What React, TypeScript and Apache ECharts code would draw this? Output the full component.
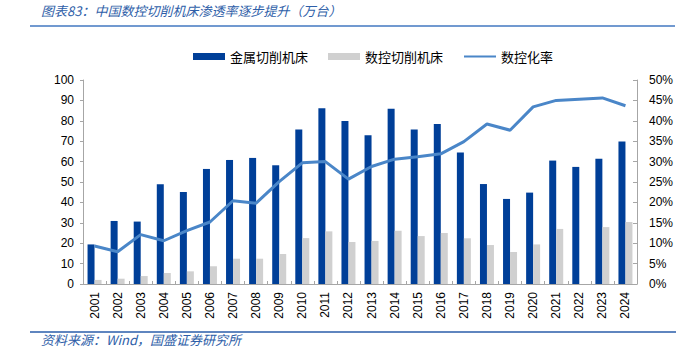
import React, { useEffect, useRef } from "react";
import * as echarts from "echarts";

const years = ["2001","2002","2003","2004","2005","2006","2007","2008","2009","2010","2011","2012","2013","2014","2015","2016","2017","2018","2019","2020","2021","2022","2023","2024"];
const metalCutting = [19.4,30.9,30.6,48.9,45.1,56.4,60.8,61.8,58.2,75.7,86.1,79.9,72.9,85.9,75.7,78.4,64.5,49.0,41.7,44.8,60.5,57.4,61.4,69.8];
const cncCutting = [2.0,2.6,3.9,5.4,6.2,8.7,12.4,12.4,14.7,22.5,25.8,20.6,21.1,26.1,23.5,25.0,22.4,19.1,15.7,19.4,27.0,null,27.9,30.4];
const cncRate = [9.3,7.9,12.1,10.6,13.1,15.2,20.4,19.8,25.1,29.7,30.0,25.7,28.8,30.6,31.2,31.9,34.9,39.2,37.7,43.4,45.0,45.3,45.6,43.7];

const titleText = "图表83：中国数控切削机床渗透率逐步提升（万台）";
const sourceText = "资料来源：Wind，国盛证券研究所";

const CJK = "'Noto Sans CJK SC', sans-serif";
const NUM = "'Liberation Sans Narrow', 'Liberation Sans', Arial, sans-serif";

export default function App() {
  const ref = useRef<HTMLDivElement>(null);
  useEffect(() => {
    document.body.style.margin = "0";
    const chart = echarts.init(ref.current!, null, { renderer: "svg" });
    chart.setOption({
      animation: false,
      backgroundColor: "#ffffff",
      grid: { left: 83, right: 63, top: 80, bottom: 72, containLabel: false },
      legend: {
        left: 188,
        top: 45,
        itemWidth: 32,
        itemHeight: 7,
        itemGap: 20,
        textStyle: { fontFamily: CJK, fontSize: 13, color: "#000" },
        data: [
          { name: "金属切削机床", icon: "rect" },
          { name: "数控切削机床", icon: "rect" },
          { name: "数控化率", itemStyle: { color: "transparent", borderWidth: 0, opacity: 0 } },
        ],
      },
      xAxis: {
        type: "category",
        data: years,
        axisLine: { lineStyle: { color: "#a6a6a6", width: 1 } },
        axisTick: { show: true, inside: true, length: 3, lineStyle: { color: "#a6a6a6" } },
        axisLabel: { rotate: 90, margin: 8, fontFamily: "'Liberation Sans', Arial, sans-serif", fontSize: 12, color: "#000", interval: 0 },
      },
      yAxis: [
        {
          type: "value",
          min: 0,
          max: 100,
          interval: 10,
          splitLine: { show: false },
          axisLine: { show: true, lineStyle: { color: "#a6a6a6" } },
          axisTick: { show: true, length: 3, lineStyle: { color: "#a6a6a6" } },
          axisLabel: { fontFamily: NUM, fontSize: 12, color: "#000", margin: 9 },
        },
        {
          type: "value",
          min: 0,
          max: 50,
          interval: 5,
          splitLine: { show: false },
          axisLine: { show: true, lineStyle: { color: "#a6a6a6" } },
          axisTick: { show: true, inside: true, length: 4, lineStyle: { color: "#a6a6a6" } },
          axisLabel: { fontFamily: NUM, fontSize: 12, color: "#000", margin: 12, formatter: "{value}%" },
        },
      ],
      series: [
        {
          name: "金属切削机床",
          type: "bar",
          data: metalCutting,
          barWidth: 7,
          barGap: "0%",
          itemStyle: { color: "#003f98" },
        },
        {
          name: "数控切削机床",
          type: "bar",
          data: cncCutting,
          barWidth: 7,
          barGap: "0%",
          itemStyle: { color: "#d0d0d0" },
        },
        {
          name: "数控化率",
          type: "line",
          yAxisIndex: 1,
          data: cncRate,
          symbol: "none",
          lineStyle: { color: "#4a86c8", width: 3 },
          itemStyle: { color: "#4a86c8" },
        },
      ],
      graphic: [
        {
          type: "text",
          left: 41,
          top: 4,
          style: { text: titleText, fontFamily: CJK, fontSize: 13, fontStyle: "italic", fill: "#2e5ea8" },
        },
        {
          type: "line",
          shape: { x1: 30, y1: 26, x2: 675, y2: 26 },
          style: { stroke: "#7199d0", lineWidth: 2 },
        },
        {
          type: "line",
          shape: { x1: 30, y1: 332, x2: 676, y2: 332 },
          style: { stroke: "#2a5caa", lineWidth: 1.5 },
        },
        {
          type: "text",
          left: 41,
          top: 333,
          style: { text: sourceText, fontFamily: CJK, fontSize: 13, fontStyle: "italic", fill: "#2e5ea8" },
        },
      ],
    });
    return () => chart.dispose();
  }, []);
  return <div ref={ref} style={{ width: 700, height: 356 }} />;
}
